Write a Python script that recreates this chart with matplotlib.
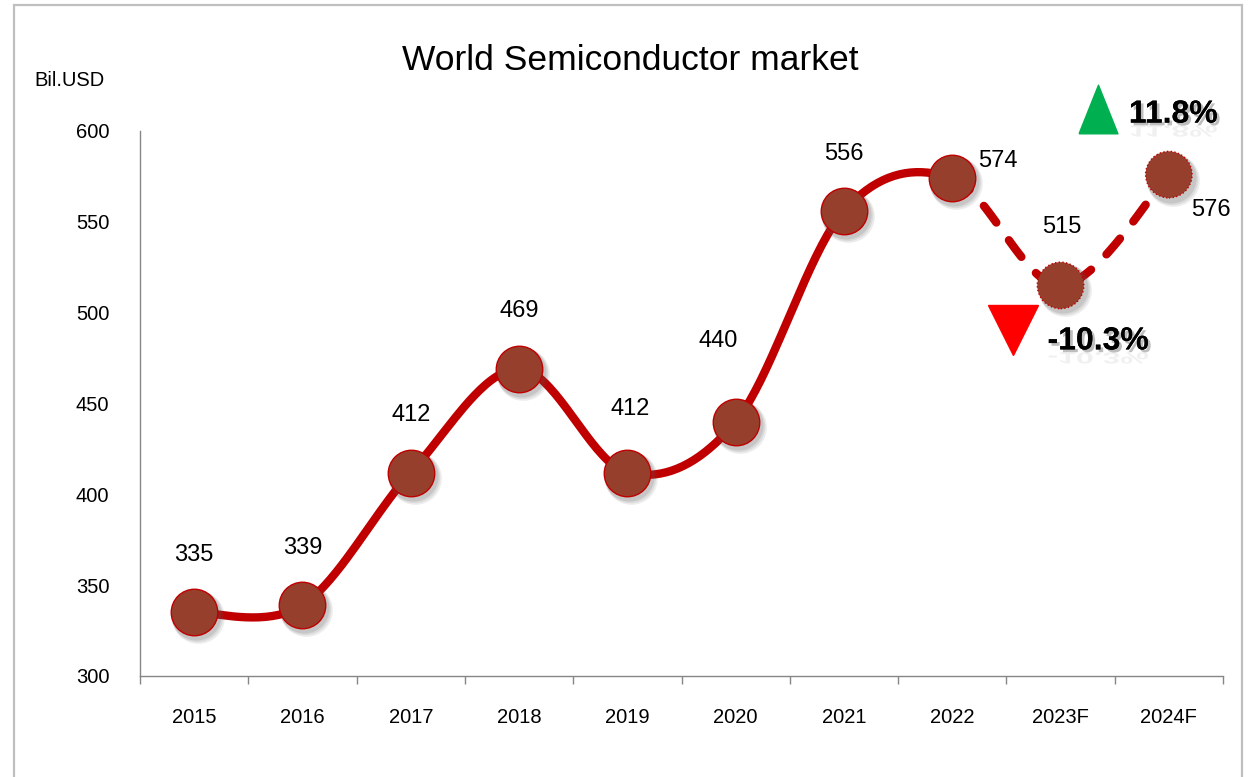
import numpy as np
import matplotlib
matplotlib.use("Agg")
import matplotlib.pyplot as plt
import matplotlib.transforms as mtransforms
import matplotlib.patheffects as pe
from matplotlib.patches import Rectangle, PathPatch
from matplotlib.textpath import TextPath
from matplotlib.font_manager import FontProperties

plt.rcParams['font.family'] = ['Liberation Sans', 'DejaVu Sans']

years = ['2015', '2016', '2017', '2018', '2019', '2020', '2021', '2022', '2023F', '2024F']
market = [335, 339, 412, 469, 412, 440, 556, 574, 515, 576]
n_actual = 8  # 2015..2022 are actual figures, the rest forecast

LINE_RED = '#C00000'
DOT_BROWN = '#963F2D'


def smooth_curve(xs, ys, steps=40):
    # Catmull-Rom style bezier, like a spreadsheet "smoothed line"
    pts = np.column_stack([xs, ys]).astype(float)
    padded = np.vstack([pts[0], pts, pts[-1]])
    segs = []
    for i in range(len(pts) - 1):
        p0, p1, p2, p3 = padded[i], padded[i + 1], padded[i + 2], padded[i + 3]
        c1 = p1 + (p2 - p0) / 6.0
        c2 = p2 - (p3 - p1) / 6.0
        t = np.linspace(0, 1, steps)[:, None]
        seg = ((1 - t) ** 3 * p1 + 3 * (1 - t) ** 2 * t * c1
               + 3 * (1 - t) * t ** 2 * c2 + t ** 3 * p2)
        segs.append(seg)
    return segs


fig = plt.figure(figsize=(12.58, 7.77), dpi=100)
ax = fig.add_axes([140 / 1258, 101 / 777, 1083 / 1258, 545 / 777])

# frame around the whole chart area
fig.add_artist(Rectangle((14 / 1258, -0.05), (1242 - 14) / 1258, 1 - 5 / 777 + 0.05,
                         transform=fig.transFigure, fill=False,
                         edgecolor='#BFBFBF', lw=1.6))

xs = np.arange(len(years))
segs = smooth_curve(xs, market)
solid = np.vstack(segs[:n_actual - 1])
dashed = np.vstack(segs[n_actual - 1:])

ax.plot(solid[:, 0], solid[:, 1], color=LINE_RED, lw=6, solid_capstyle='round', zorder=2)
ax.plot(dashed[:, 0], dashed[:, 1], color=LINE_RED, lw=6, dashes=(2.5, 2.6),
        dash_capstyle='round', zorder=2)

# soft drop shadow under the markers
for k, (dx, dy, a) in enumerate([(4, -5, 0.10), (3, -4, 0.12), (2, -3, 0.15)]):
    off = mtransforms.offset_copy(ax.transData, fig=fig, x=dx, y=dy, units='dots')
    ax.scatter(xs, market, s=(36 + 2 - k) ** 2, color='#555555', alpha=a,
               linewidths=0, transform=off, zorder=3)

ax.scatter(xs[:n_actual], market[:n_actual], s=33.5 ** 2, color=DOT_BROWN,
           edgecolors=LINE_RED, linewidths=1.0, zorder=4)
ax.scatter(xs[n_actual:], market[n_actual:], s=33.5 ** 2, color=DOT_BROWN,
           edgecolors=LINE_RED, linewidths=1.0, linestyle=':', zorder=4)

# value labels, offsets in pixels from each point
label_offsets = [(0, 57), (0, 57), (0, 58), (0, 58), (3, 64),
                 (-17, 81), (0, 57), (46, 17), (1, 58), (42, -35)]
for xi, v, (ox, oy) in zip(xs, market, label_offsets):
    ax.annotate(str(v), (xi, v), xytext=(ox, oy), textcoords='offset pixels',
                ha='center', va='center', fontsize=17, color='black', zorder=5)

ax.set_xlim(-0.5, len(years) - 0.5)
ax.set_ylim(300, 600)
ax.set_yticks(range(300, 601, 50))
ax.set_xticks(xs)
ax.set_xticklabels(years)
ax.set_xticks(np.arange(-0.5, len(years)), minor=True)
ax.tick_params(axis='y', length=0, pad=22, labelsize=14.5)
ax.tick_params(axis='x', which='major', length=0, pad=23, labelsize=14.5)
ax.tick_params(axis='x', which='minor', length=6, width=1, color='#868686', direction='out')
for side in ['top', 'right']:
    ax.spines[side].set_visible(False)
for side in ['left', 'bottom']:
    ax.spines[side].set_color('#868686')
    ax.spines[side].set_linewidth(1)

fig.text(630 / 1258, 1 - 60 / 777, 'World Semiconductor market', ha='center', va='center',
         fontsize=25.5)
fig.text(70 / 1258, 1 - 81 / 777, 'Bil.USD', ha='center', va='center', fontsize=14.5)

# year-on-year change for the forecast years
chg_2023 = (market[8] - market[7]) / market[7] * 100
chg_2024 = (market[9] - market[8]) / market[8] * 100

green_tri = [(-0.4, -0.5), (0.4, -0.5), (0.0, 0.5), (-0.4, -0.5)]
ax.plot([xs[9]], [market[9]], marker=green_tri, markersize=35, color='#00B050', lw=0,
        transform=mtransforms.offset_copy(ax.transData, fig=fig, x=-71, y=66, units='dots'),
        clip_on=False, zorder=5)
ax.plot([xs[8]], [market[8]], marker='v', markersize=36, color='#FF0000', lw=0,
        transform=mtransforms.offset_copy(ax.transData, fig=fig, x=-48, y=-45, units='dots'),
        clip_on=False, zorder=5)

bold = FontProperties(family='Liberation Sans', weight='bold', size=23)
shadow = [pe.withSimplePatchShadow(offset=(2, -2), shadow_rgbFace='#7F7F7F', alpha=0.5),
          pe.Normal()]
pct_labels = [(f'{chg_2024:.1f}%', xs[9], market[9], -40, 52),
              (f'{chg_2023:.1f}%', xs[8], market[8], -13, -64)]
fig.canvas.draw()
for text, xi, v, ox, oy in pct_labels:
    ax.annotate(text, (xi, v), xytext=(ox, oy), textcoords='offset pixels',
                ha='left', va='baseline', fontproperties=bold, color='black',
                path_effects=shadow, annotation_clip=False, zorder=6)
    # faded mirror image below the baseline
    bx, by = ax.transData.transform((xi, v))
    tp = TextPath((0, 0), text, prop=bold, size=23 * 100 / 72)
    tr = mtransforms.Affine2D().scale(1, -0.5).translate(bx + ox, by + oy - 3)
    fig.add_artist(PathPatch(tp, transform=tr, facecolor='#A0A0A0', edgecolor='none',
                             alpha=0.15, zorder=6))

fig.savefig('out.png', dpi=100)
